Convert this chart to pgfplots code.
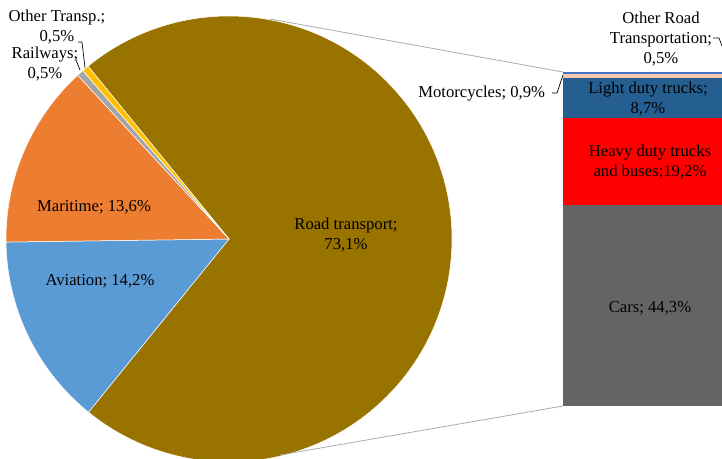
\documentclass[border=0pt]{standalone}
\usepackage{pgfplots}
\pgfplotsset{compat=1.18}
\usepackage{fontspec}
\setmainfont{Liberation Serif}

% colours
\definecolor{roadc}{HTML}{997300}
\definecolor{aviac}{HTML}{5B9BD5}
\definecolor{maric}{HTML}{ED7D31}
\definecolor{railc}{HTML}{A5A5A5}
\definecolor{othc}{HTML}{FFC000}
\definecolor{carsc}{HTML}{646464}
\definecolor{heavyc}{HTML}{FF0000}
\definecolor{lightc}{HTML}{255E91}
\definecolor{motoc}{HTML}{F8CBAD}
\definecolor{othrc}{HTML}{4472C4}

\begin{document}
\begin{tikzpicture}[font=\fontsize{10}{12}\selectfont]
% 1 px of the reference = 0.6pt

% --- road transport split (bar) ---
\begin{axis}[
    at={(337.8pt,31.2pt)}, anchor=south west,
    width=103.2pt, height=200.4pt, scale only axis,
    xmin=0, xmax=1, ymin=0, ymax=73.6,
    enlargelimits=false,
    hide axis,
    ybar stacked, bar width=103.2pt,
    ]
    \addplot+[fill=carsc, draw=none] coordinates {(0.5,44.3)};
    \addplot+[fill=heavyc, draw=none] coordinates {(0.5,19.2)};
    \addplot+[fill=lightc, draw=none] coordinates {(0.5,8.7)};
    \addplot+[fill=motoc, draw=none] coordinates {(0.5,0.9)};
    \addplot+[fill=othrc, draw=none] coordinates {(0.5,0.5)};
\end{axis}

% --- pie, in pixel coordinates ---
\begin{axis}[
    name=main, at={(0,0)}, anchor=south west,
    width=433.2pt, height=274.8pt, scale only axis,
    xmin=0, xmax=722, ymin=0, ymax=458, y dir=reverse,
    hide axis, clip=false,
    ]
    \pgfplotsextra{%
      \xdef\angA{129.2}%
      \foreach \v/\c in {73.1/roadc,14.2/aviac,13.6/maric,0.5/railc,0.5/othc}{%
        \pgfmathsetmacro\angB{\angA-\v/101.9*360}%
        \fill[\c, draw=white, line width=0.3pt] (axis cs:229,239) -- ++(\angA:133.8pt)
          arc[start angle=\angA, end angle=\angB, radius=133.8pt] -- cycle;
        \xdef\angA{\angB}%
      }%
    }

    % connectors
    \draw[gray!70, line width=0.45pt] (axis cs:270,19) -- (axis cs:563,72);
    \draw[gray!70, line width=0.45pt] (axis cs:280,455) -- (axis cs:563,406);

    % pie labels
    \node[align=center] at (axis cs:346,235) {Road transport;\\73,1\%};
    \node at (axis cs:94,207) {Maritime;\ 13,6\%};
    \node at (axis cs:100,281) {Aviation;\ 14,2\%};
    \node[align=center] at (axis cs:57,27) {Other Transp.;\\0,5\%};
    \node[align=center] at (axis cs:45,64) {Railways;\\0,5\%};
    \draw[line width=0.4pt] (axis cs:78,42) -- (axis cs:82,42) -- (axis cs:85,68);
    \draw[line width=0.4pt] (axis cs:76,60) -- (axis cs:80,70);

    % bar labels
    \node[align=center] at (axis cs:648,99) {Light duty trucks;\\8,7\%};
    \node[align=center] at (axis cs:650,162) {Heavy duty trucks\\and buses;19,2\%};
    \node at (axis cs:650,308) {Cars; 44,3\%};
    \node[align=center] at (axis cs:661,39) {Other Road\\Transportation;\\0,5\%};
    \draw[line width=0.4pt] (axis cs:713,38) -- (axis cs:719,38) -- (axis cs:722,46);
    \node[anchor=east] at (axis cs:551,94) {Motorcycles;\ 0,9\%};
    \draw[line width=0.4pt] (axis cs:552,93) -- (axis cs:557,93) -- (axis cs:563,75);
\end{axis}

\pgfresetboundingbox
\path[use as bounding box] (main.south west) rectangle (main.north east);
\end{tikzpicture}
\end{document}
